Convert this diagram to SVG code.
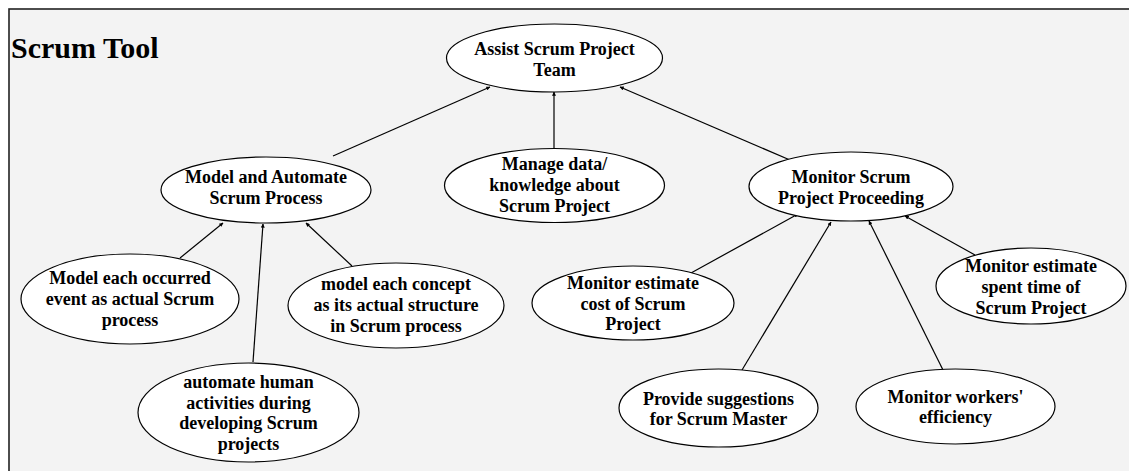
<svg xmlns="http://www.w3.org/2000/svg" width="1129" height="471" viewBox="0 0 1129 471">
<style>
.n ellipse{fill:#fff;stroke:#000;stroke-width:1.2}
.n text{font-family:"Liberation Serif","Times New Roman",serif;font-weight:bold;font-size:18px;text-anchor:middle;fill:#000}
.c line{stroke:#000;stroke-width:1.2;marker-end:url(#a)}
</style>
<defs>
<marker id="a" viewBox="0 0 6 6" refX="5.5" refY="3" markerWidth="4" markerHeight="4" orient="auto" markerUnits="userSpaceOnUse">
<path d="M0,0 L6,3 L0,6 z" fill="#000"/>
</marker>
</defs>
<rect x="0" y="0" width="1129" height="471" fill="#fff"/>
<rect x="9" y="9" width="1125" height="470" fill="#f3f3f3" stroke="#222" stroke-width="1.6"/>
<text x="11" y="58" font-family="Liberation Serif,serif" font-weight="bold" font-size="30">Scrum Tool</text>
<g class="c">
<line x1="333" y1="156" x2="490" y2="87"/>
<line x1="554" y1="148" x2="554" y2="92"/>
<line x1="790" y1="160" x2="620" y2="87"/>
<line x1="180" y1="258" x2="223" y2="223"/>
<line x1="253" y1="362" x2="263" y2="224"/>
<line x1="352" y1="266" x2="306" y2="223"/>
<line x1="691" y1="273" x2="798" y2="214"/>
<line x1="742" y1="370" x2="831" y2="222"/>
<line x1="943" y1="370" x2="869" y2="221"/>
<line x1="975" y1="255" x2="905" y2="216"/>
</g>
<g class="n" id="n-assist"><ellipse cx="554.5" cy="58" rx="108" ry="34"/><text x="554.5" y="55">Assist Scrum Project</text><text x="554.5" y="76">Team</text></g>
<g class="n" id="n-model-automate"><ellipse cx="266" cy="190" rx="105" ry="33"/><text x="266" y="183">Model and Automate</text><text x="266" y="204">Scrum Process</text></g>
<g class="n" id="n-manage"><ellipse cx="554.5" cy="185.5" rx="110" ry="37"/><text x="554.5" y="170">Manage data/</text><text x="554.5" y="191">knowledge about</text><text x="554.5" y="212">Scrum Project</text></g>
<g class="n" id="n-monitor-proceeding"><ellipse cx="851" cy="186.5" rx="102" ry="34.5"/><text x="851" y="183">Monitor Scrum</text><text x="851" y="204">Project Proceeding</text></g>
<g class="n" id="n-model-event"><ellipse cx="130" cy="299" rx="109" ry="45"/><text x="130" y="284">Model each occurred</text><text x="130" y="305">event as actual Scrum</text><text x="130" y="326">process</text></g>
<g class="n" id="n-model-concept"><ellipse cx="396" cy="305.5" rx="108" ry="42.5"/><text x="396" y="290">model each concept</text><text x="396" y="311">as its actual structure</text><text x="396" y="332">in Scrum process</text></g>
<g class="n" id="n-automate"><ellipse cx="248.5" cy="412.5" rx="110.5" ry="49.5"/><text x="248.5" y="388">automate human</text><text x="248.5" y="408.5">activities during</text><text x="248.5" y="429">developing Scrum</text><text x="248.5" y="449.5">projects</text></g>
<g class="n" id="n-cost"><ellipse cx="633" cy="303" rx="101" ry="37"/><text x="633" y="289">Monitor estimate</text><text x="633" y="309.5">cost of Scrum</text><text x="633" y="330">Project</text></g>
<g class="n" id="n-suggest"><ellipse cx="718.5" cy="408" rx="99.5" ry="39"/><text x="718.5" y="404.5">Provide suggestions</text><text x="718.5" y="424.5">for Scrum Master</text></g>
<g class="n" id="n-workers"><ellipse cx="955.5" cy="406.5" rx="99.5" ry="37.5"/><text x="955.5" y="403">Monitor workers'</text><text x="955.5" y="423">efficiency</text></g>
<g class="n" id="n-spent"><ellipse cx="1031" cy="286" rx="95" ry="38"/><text x="1031" y="272">Monitor estimate</text><text x="1031" y="293">spent time of</text><text x="1031" y="314">Scrum Project</text></g>
</svg>
